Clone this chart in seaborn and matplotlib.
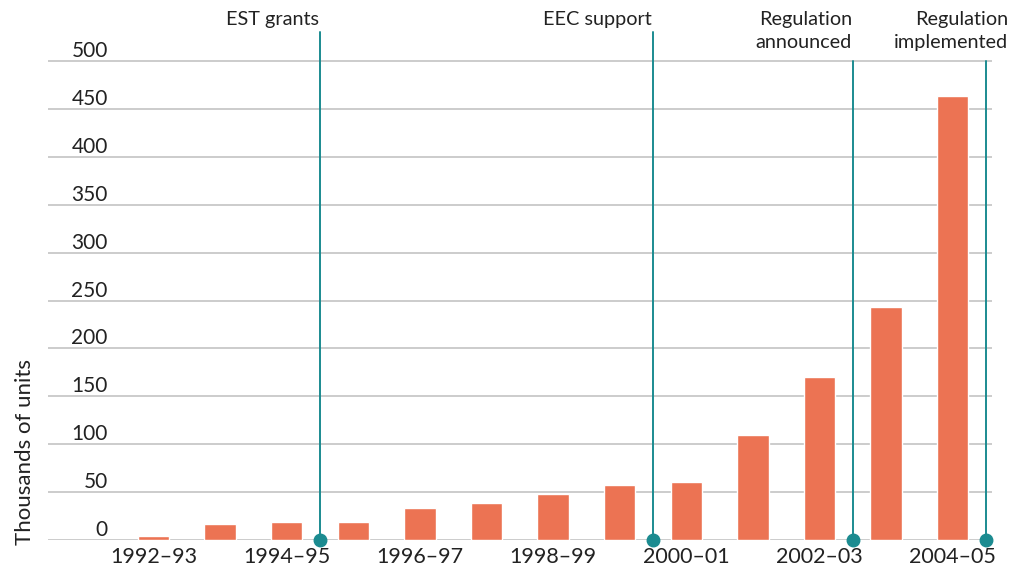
import matplotlib
matplotlib.use("Agg")
import matplotlib.pyplot as plt
import matplotlib.transforms as mtransforms
import seaborn as sns
import pandas as pd

years = ["1992–93", "1993–94", "1994–95", "1995–96", "1996–97", "1997–98", "1998–99",
         "1999–00", "2000–01", "2001–02", "2002–03", "2003–04", "2004–05"]
units = [4, 17, 19, 19, 33, 39, 48, 57.5, 60.5, 110, 170, 243, 464]
event_labels = ["EST grants", "EEC support", "Regulation\nannounced", "Regulation\nimplemented"]
event_pos = [2.5, 7.5, 10.5, 12.5]
event_top = [530, 530, 500, 500]
yticks = [0, 50, 100, 150, 200, 250, 300, 350, 400, 450, 500]

BAR = "#EC7353"
TEAL = "#1B8B90"
TXT = "#222222"

sns.set_theme(style="white")
plt.rcParams['font.family'] = ['Lato', 'DejaVu Sans']

fig = plt.figure(figsize=(10.22, 5.74), dpi=100)
W, H = 1022, 574
ax = fig.add_axes([48 / W, 34 / H, (992 - 48) / W, (540 - 32.3) / H])

df = pd.DataFrame({"year": years, "units": units})
sns.barplot(data=df, x="year", y="units", color=BAR, width=0.47, saturation=1, ax=ax, zorder=3)

ax.set_xlim(-1.584, 12.59)
ax.set_ylim(0, 530)
ax.set_yticks(yticks)
ax.set_yticklabels([str(v) for v in yticks], fontsize=15, color=TXT, va="bottom")
ax.tick_params(axis="y", length=0, pad=-43)
ax.set_xticks(range(len(years)))
ax.set_xticklabels([y if i % 2 == 0 else "" for i, y in enumerate(years)], fontsize=15.5, color=TXT)
ax.tick_params(axis="x", length=0, pad=5)
ax.set_xlabel("")
ax.set_ylabel("")
for s in ax.spines.values():
    s.set_visible(False)
ax.grid(False)
for v in yticks:
    ax.axhline(v, color="#CCCCCC", lw=1.4, zorder=1)

for x, top in zip(event_pos, event_top):
    ax.plot([x, x], [0, top], color=TEAL, lw=1.4, zorder=4, clip_on=False)
    ax.plot([x], [0], marker="o", ms=9, color=TEAL, zorder=5, clip_on=False)

trans = mtransforms.blended_transform_factory(ax.transData, fig.transFigure)
for lab, x in zip(event_labels[:3], event_pos[:3]):
    nlines = lab.count("\n") + 1
    yc = 19 if nlines == 1 else 31
    ax.text(x - 0.015, 1 - yc / H, lab, transform=trans, ha="right", va="center",
            fontsize=14.3, color=TXT, linespacing=1.4)
fig.text(1008 / W, 1 - 31 / H, event_labels[3], ha="right", va="center",
         fontsize=14.3, color=TXT, linespacing=1.4)

fig.text(25 / W, 1 - 452 / H, "Thousands of units", rotation=90, ha="center", va="center",
         fontsize=16, color=TXT)

fig.savefig("out.png", dpi=100)
